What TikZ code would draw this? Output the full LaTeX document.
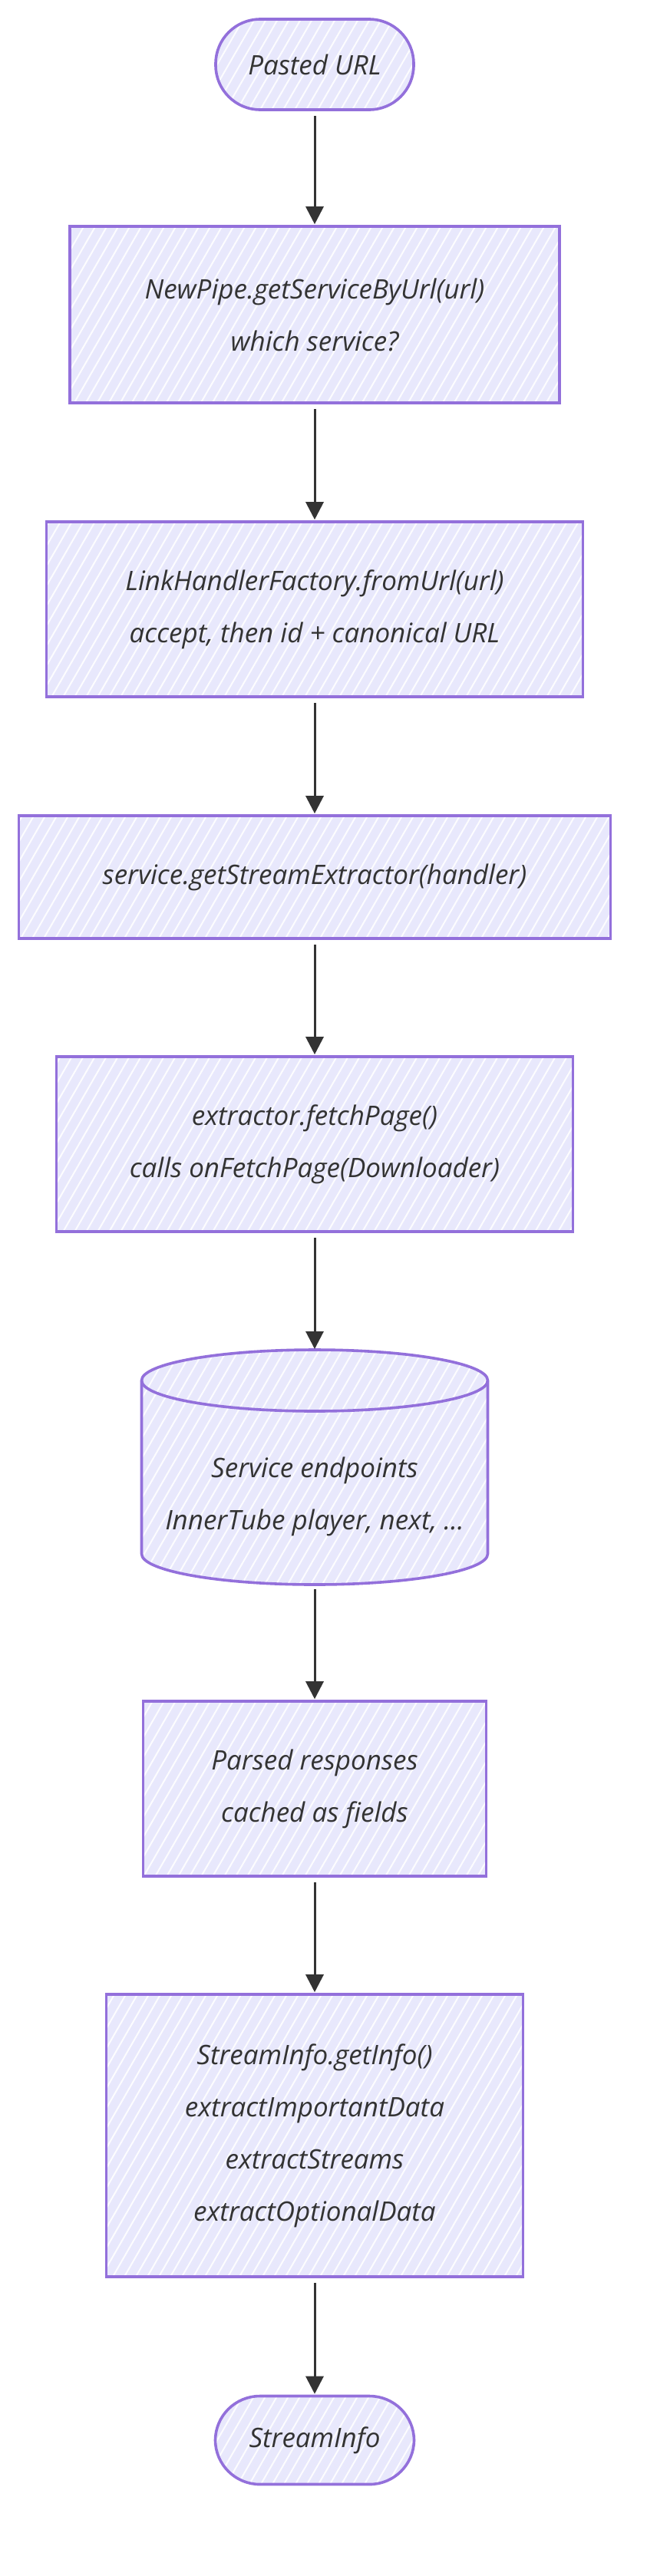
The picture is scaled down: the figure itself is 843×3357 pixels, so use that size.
\documentclass[tikz,border=0pt]{standalone}
\usepackage{fontspec}
\setmainfont{Open Sans}
\usetikzlibrary{arrows.meta}
\definecolor{nodefill}{HTML}{E8E8FC}
\definecolor{nodeline}{HTML}{9370DB}
\definecolor{ink}{HTML}{333333}
\newcommand\nodefont{\fontsize{35}{68}\selectfont\itshape}
\tikzset{
  x=1pt, y=-1pt,
  hatch/.style={path picture={
    \foreach \k in {-70,...,40} {
      \draw[white, line width=2pt, opacity=0.9]
        ([xshift=\k*15pt, yshift=-300pt]path picture bounding box.center) -- ++(346pt,600pt);
    }}},
  shapebase/.style={draw=nodeline, line width=3.6pt, fill=nodefill, hatch},
  txt/.style={text=ink, align=center, inner sep=0pt, font=\nodefont},
  stepbox/.style={shapebase, txt, rectangle},
  stadium/.style={shapebase, txt, rectangle, rounded corners=58pt},
  flow/.style={draw=ink, line width=3pt, -{Triangle[length=23pt,width=23pt]}, shorten >=1pt, shorten <=6pt},
}
\begin{document}
\begin{tikzpicture}
\useasboundingbox (0,0) rectangle (843,3357);

\node[stadium, minimum width=258pt, minimum height=118pt] (url) at (410,84) {Pasted URL};
\node[stepbox, minimum width=638pt, minimum height=230pt] (b1) at (410,410) {NewPipe.getServiceByUrl(url)\\which service?};
\node[stepbox, minimum width=699pt, minimum height=228pt] (b2) at (410,794) {LinkHandlerFactory.fromUrl(url)\\accept, then id + canonical URL};
\node[stepbox, minimum width=771pt, minimum height=160pt] (b3) at (410,1143) {service.getStreamExtractor(handler)};
\node[stepbox, minimum width=673pt, minimum height=228pt] (b4) at (410,1491) {extractor.fetchPage()\\calls onFetchPage(Downloader)};

% cylinder
\path[shapebase, draw=none] (184.5,1799) -- (184.5,2025)
  arc[start angle=180, end angle=0, x radius=225.5, y radius=40]
  -- (635.5,1799)
  arc[start angle=0, end angle=-180, x radius=225.5, y radius=40] -- cycle;
\draw[draw=nodeline, line width=3.6pt] (184.5,1799) -- (184.5,2025)
  arc[start angle=180, end angle=0, x radius=225.5, y radius=40]
  -- (635.5,1799)
  arc[start angle=0, end angle=-180, x radius=225.5, y radius=40] -- cycle;
\draw[draw=nodeline, line width=3.6pt] (184.5,1799)
  arc[start angle=180, end angle=0, x radius=225.5, y radius=40];
\coordinate (cyltop) at (410,1759);
\coordinate (cylbot) at (410,2065);
\node[txt] (cyl) at (410,1950) {Service endpoints\\InnerTube player, next, ...};

\node[stepbox, minimum width=447pt, minimum height=228pt] (b5) at (410,2331) {Parsed responses\\cached as fields};
\node[stepbox, minimum width=543pt, minimum height=368pt] (b6) at (410,2783) {StreamInfo.getInfo()\\extractImportantData\\extractStreams\\extractOptionalData};
\node[stadium, minimum width=259pt, minimum height=115pt] (si) at (410,3180) {StreamInfo};

\draw[flow] (url) -- (b1);
\draw[flow] (b1) -- (b2);
\draw[flow] (b2) -- (b3);
\draw[flow] (b3) -- (b4);
\draw[flow] (b4) -- (cyltop);
\draw[flow] (cylbot) -- (b5);
\draw[flow] (b5) -- (b6);
\draw[flow] (b6) -- (si);
\end{tikzpicture}
\end{document}
